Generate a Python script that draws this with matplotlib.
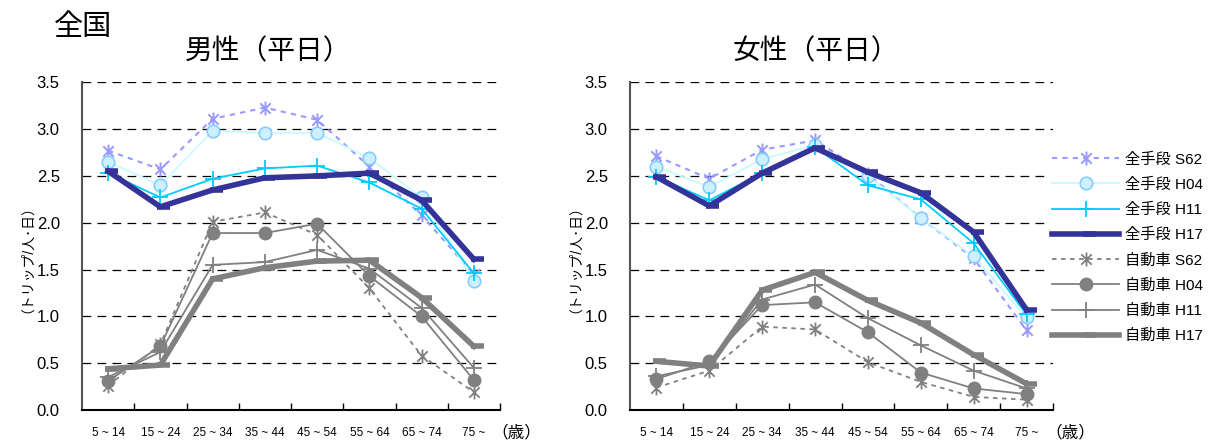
import numpy as np
import matplotlib
matplotlib.use("Agg")
import matplotlib.pyplot as plt
from matplotlib.path import Path
from matplotlib.ticker import FixedLocator, NullFormatter

plt.rcParams['font.family'] = ['Liberation Sans', 'Noto Sans CJK JP', 'DejaVu Sans']

# age groups
ages = ['5 ~ 14', '15 ~ 24', '25 ~ 34', '35 ~ 44', '45 ~ 54', '55 ~ 64', '65 ~ 74', '75 ~']

# male (weekday), trips per person per day
zen_s62_m = [2.77, 2.57, 3.11, 3.23, 3.10, 2.60, 2.08, 1.45]
zen_h04_m = [2.65, 2.40, 2.98, 2.96, 2.96, 2.69, 2.27, 1.38]
zen_h11_m = [2.53, 2.27, 2.47, 2.58, 2.61, 2.43, 2.15, 1.46]
zen_h17_m = [2.55, 2.17, 2.35, 2.48, 2.50, 2.53, 2.24, 1.61]
car_s62_m = [0.26, 0.70, 2.01, 2.11, 1.87, 1.30, 0.58, 0.19]
car_h04_m = [0.31, 0.68, 1.89, 1.89, 1.99, 1.43, 1.00, 0.32]
car_h11_m = [0.35, 0.62, 1.55, 1.58, 1.71, 1.51, 1.09, 0.45]
car_h17_m = [0.44, 0.48, 1.40, 1.52, 1.59, 1.60, 1.20, 0.68]

# female (weekday)
zen_s62_f = [2.71, 2.47, 2.78, 2.88, 2.52, 2.05, 1.62, 0.85]
zen_h04_f = [2.60, 2.38, 2.68, 2.83, 2.50, 2.05, 1.64, 0.99]
zen_h11_f = [2.49, 2.24, 2.53, 2.81, 2.40, 2.25, 1.78, 1.02]
zen_h17_f = [2.49, 2.18, 2.53, 2.80, 2.54, 2.32, 1.90, 1.07]
car_s62_f = [0.24, 0.42, 0.89, 0.86, 0.51, 0.30, 0.14, 0.11]
car_h04_f = [0.33, 0.52, 1.12, 1.15, 0.83, 0.40, 0.23, 0.17]
car_h11_f = [0.36, 0.48, 1.18, 1.34, 0.98, 0.69, 0.42, 0.23]
car_h17_f = [0.52, 0.47, 1.28, 1.47, 1.17, 0.93, 0.59, 0.28]

labels = ['全手段 S62', '全手段 H04', '全手段 H11', '全手段 H17',
          '自動車 S62', '自動車 H04', '自動車 H11', '自動車 H17']

# excel-like markers
star = Path([(0, -1), (0, 1), (-0.75, -0.75), (0.75, 0.75), (-0.75, 0.75), (0.75, -0.75)],
            [Path.MOVETO, Path.LINETO, Path.MOVETO, Path.LINETO, Path.MOVETO, Path.LINETO])
dash = Path([(-0.3, 0), (1, 0)], [Path.MOVETO, Path.LINETO])

blue_l = '#9999FF'
cyan_l = '#C8FAFF'
sky = '#00CCFF'
navy = '#333399'
gray = '#808080'

styles = [
    dict(color=blue_l, lw=1.5, ls=(0, (2.5, 2.5)), marker=star, ms=10, mew=1.4, mec=blue_l),
    dict(color=cyan_l, lw=1.3, ls='-', marker='o', ms=9, mfc='#CCF0FF', mec='#88CCFF', mew=1.2),
    dict(color=sky, lw=1.3, ls='-', marker='+', ms=11, mew=1.3, mec=sky),
    dict(color=navy, lw=4, ls='-', marker=dash, ms=14, mew=4, mec=navy),
    dict(color=gray, lw=1.3, ls=(0, (2.5, 2.5)), marker=star, ms=10, mew=1.3, mec=gray),
    dict(color=gray, lw=1.3, ls='-', marker='o', ms=9, mfc=gray, mec=gray),
    dict(color=gray, lw=1.3, ls='-', marker='+', ms=11, mew=1.3, mec=gray),
    dict(color=gray, lw=4, ls='-', marker=dash, ms=14, mew=4, mec=gray),
]

W, H = 1217, 441
fig = plt.figure(figsize=(W / 100, H / 100), dpi=100)


def make_axes(x0, x1, title, title_x, ylab_x, series):
    ax = fig.add_axes([x0 / W, 1 - 410 / H, (x1 - x0) / W, (410 - 82.3) / H])
    x = np.arange(len(ages))
    lines = []
    for vals, st, lab in zip(series, styles, labels):
        ln, = ax.plot(x, vals, label=lab, **st)
        lines.append(ln)
    ax.set_xlim(-0.5, len(ages) - 0.5)
    ax.set_ylim(0, 3.5)
    ax.set_yticks(np.arange(0, 3.51, 0.5))
    ax.set_yticklabels(['%.1f' % v for v in np.arange(0, 3.51, 0.5)], fontsize=12)
    ax.tick_params(axis='y', length=0, pad=16)
    ax.set_xticks(x)
    ax.set_xticklabels(ages, fontsize=8.5)
    ax.tick_params(axis='x', which='major', length=0, pad=12)
    ax.xaxis.set_minor_locator(FixedLocator(np.arange(0.5, len(ages), 1)))
    ax.xaxis.set_minor_formatter(NullFormatter())
    ax.tick_params(axis='x', which='minor', direction='in', length=5, width=1, color='black')
    for v in np.arange(0.5, 3.51, 0.5):
        ax.axhline(v, color='black', lw=0.9, ls=(0, (7, 5)), zorder=0)
    ax.spines['top'].set_visible(False)
    ax.spines['right'].set_visible(False)
    ax.spines['bottom'].set_linewidth(1.5)
    ax.spines['left'].set_color('#555555')
    ax.spines['left'].set_linewidth(1.5)
    ax.text(1.04, -0.07, '（歳）', transform=ax.transAxes, fontsize=12,
            ha='center', va='center')
    fig.text(title_x / W, 1 - 52 / H, title, fontsize=20, ha='center', va='center')
    fig.text(ylab_x / W, 1 - 252 / H, '（トリップ/人･日）', fontsize=10,
             rotation=90, ha='center', va='center')
    return ax, lines


axm, lines = make_axes(82, 500, '男性（平日）', 268, 20,
                       [zen_s62_m, zen_h04_m, zen_h11_m, zen_h17_m,
                        car_s62_m, car_h04_m, car_h11_m, car_h17_m])
axf, _ = make_axes(630, 1053, '女性（平日）', 816, 568,
                   [zen_s62_f, zen_h04_f, zen_h11_f, zen_h17_f,
                    car_s62_f, car_h04_f, car_h11_f, car_h17_f])

fig.text(83 / W, 1 - 27 / H, '全国', fontsize=21, ha='center', va='center')

leg = fig.legend(handles=lines, loc='upper left', bbox_to_anchor=(1040 / W, 1 - 140 / H),
                 fontsize=11, handlelength=4.4, handletextpad=0.35, labelspacing=0.72,
                 borderpad=0.3, frameon=True, fancybox=False, edgecolor='white',
                 facecolor='white', framealpha=1.0)

fig.savefig('out.png', dpi=100)
